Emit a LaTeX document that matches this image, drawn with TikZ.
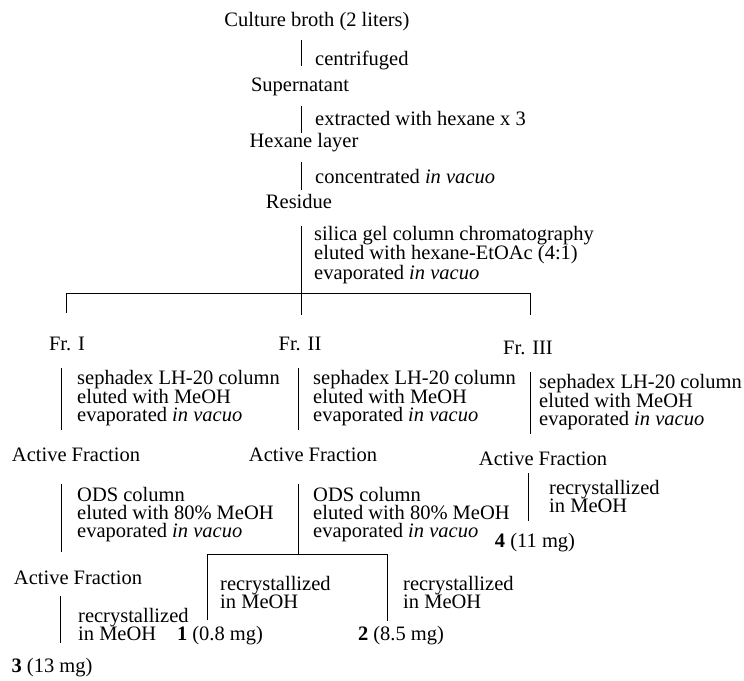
\documentclass[tikz,border=0pt]{standalone}
\usepackage{fontspec}
\setmainfont{Liberation Serif}
\begin{document}
\begin{tikzpicture}[x=1pt,y=-1pt,
  font=\fontsize{20.5}{18}\selectfont,
  lbl/.style={inner sep=0pt, anchor=west, align=left},
  ctr/.style={inner sep=0pt, anchor=center},
  ln/.style={line width=0.8pt}]
\useasboundingbox (0,0) rectangle (744,680);

% ---- top chain ----
\node[ctr] (broth) at (317,22) {Culture broth (2 liters)};
\node[lbl] (t1) at (315,60) {centrifuged};
\node[ctr] (super) at (300,87) {Supernatant};
\node[lbl] (t2) at (315,118) {extracted with hexane x 3};
\node[ctr] (hex) at (304,143) {Hexane layer};
\node[lbl] (t3) at (315,177) {concentrated \textit{in vacuo}};
\node[ctr] (res) at (299,201) {Residue};
\node[lbl] (t4) at (314,255) {silica gel column chromatography\\eluted with hexane-EtOAc (4:1)\\evaporated \textit{in vacuo}};

\coordinate (a1) at (301,40);  \coordinate (a2) at (301,66);
\coordinate (b1) at (301,106); \coordinate (b2) at (301,133);
\coordinate (c1) at (301,162); \coordinate (c2) at (301,190);
\coordinate (d1) at (301,226); \coordinate (d2) at (301,315);
\coordinate (hl) at (66,293);  \coordinate (hr) at (530,293);
\coordinate (hl2) at (66,313); \coordinate (hr2) at (530,315);
\draw[ln] (a1) -- (a2);
\draw[ln] (b1) -- (b2);
\draw[ln] (c1) -- (c2);
\draw[ln] (d1) -- (d2);
\draw[ln] (hl2) -- (hl) -- (hr) -- (hr2);

% ---- fractions ----
\node[ctr] (f1) at (67,344) {Fr. I};
\node[ctr] (f2) at (300,344) {Fr. II};
\node[ctr] (f3) at (528,348) {Fr. III};

\node[lbl] (s1) at (77,398) {sephadex LH-20 column\\eluted with MeOH\\evaporated \textit{in vacuo}};
\node[lbl] (s2) at (313,398) {sephadex LH-20 column\\eluted with MeOH\\evaporated \textit{in vacuo}};
\node[lbl] (s3) at (539,402) {sephadex LH-20 column\\eluted with MeOH\\evaporated \textit{in vacuo}};

\coordinate (e1) at (61,368);  \coordinate (e2) at (61,430);
\coordinate (g1) at (298,368); \coordinate (g2) at (298,430);
\coordinate (k1) at (530,372); \coordinate (k2) at (530,434);
\draw[ln] (e1) -- (e2);
\draw[ln] (g1) -- (g2);
\draw[ln] (k1) -- (k2);

\node[ctr] (af1) at (76,455) {Active Fraction};
\node[ctr] (af2) at (313,455) {Active Fraction};
\node[ctr] (af3) at (543,459) {Active Fraction};

% ---- ODS ----
\node[lbl] (o1) at (77,515) {ODS column\\eluted with 80\% MeOH\\evaporated \textit{in vacuo}};
\node[lbl] (o2) at (313,515) {ODS column\\eluted with 80\% MeOH\\evaporated \textit{in vacuo}};
\coordinate (m1) at (61,484);  \coordinate (m2) at (61,552);
\coordinate (n1) at (298,484); \coordinate (n2) at (298,554);
\coordinate (bl) at (207,554); \coordinate (br) at (387,554);
\coordinate (bl2) at (207,620); \coordinate (br2) at (387,621);
\draw[ln] (m1) -- (m2);
\draw[ln] (n1) -- (n2);
\draw[ln] (bl2) -- (bl) -- (br) -- (br2);

\node[lbl] (r1) at (220,592) {recrystallized\\in MeOH};
\node[lbl] (r2) at (403,592) {recrystallized\\in MeOH};
\node[ctr] (p1) at (220,636) {\textbf{1} (0.8 mg)};
\node[ctr] (p2) at (401,636) {\textbf{2} (8.5 mg)};

% ---- Fr. III recrystallization ----
\coordinate (q1) at (528,473); \coordinate (q2) at (528,521);
\draw[ln] (q1) -- (q2);
\node[lbl] (r3) at (549,496) {recrystallized\\in MeOH};
\node[ctr] (p4) at (535,543) {\textbf{4} (11 mg)};

% ---- Fr. I final ----
\node[ctr] (af4) at (78,578) {Active Fraction};
\coordinate (u1) at (60,596); \coordinate (u2) at (60,643);
\draw[ln] (u1) -- (u2);
\node[lbl] (r4) at (78,624) {recrystallized\\in MeOH};
\node[ctr] (p3) at (52,668) {\textbf{3} (13 mg)};
\end{tikzpicture}
\end{document}
